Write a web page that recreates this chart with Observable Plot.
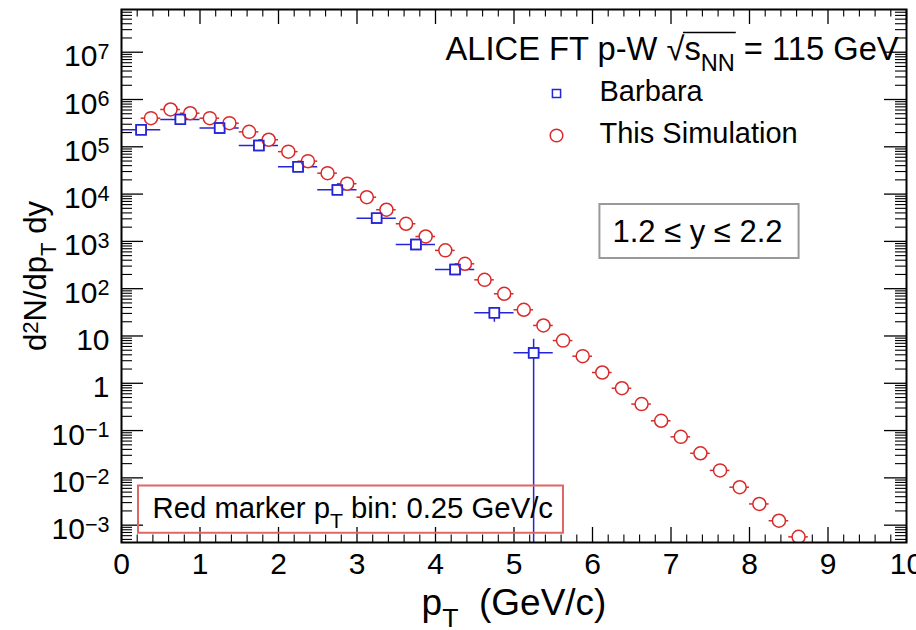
<!DOCTYPE html>
<html><head><meta charset="utf-8">
<script src="https://cdn.jsdelivr.net/npm/d3@7"></script>
<script src="https://cdn.jsdelivr.net/npm/@observablehq/plot@0.6"></script>
<style>
  body { margin: 0; background: #fff; }
  #chart { width: 916px; height: 630px; overflow: hidden; }
</style>
</head>
<body>
<div id="chart"></div>
<script>
// ---------------- data ----------------
const barbaraPt        = [0.25, 0.75, 1.25, 1.75, 2.25, 2.75, 3.25, 3.75, 4.25, 4.75, 5.25];
const barbaraPtHalfBin = [0.25, 0.25, 0.25, 0.25, 0.25, 0.25, 0.25, 0.25, 0.25, 0.25, 0.25];
const barbaraYield     = [2.3e5, 3.8e5, 2.5e5, 1.07e5, 3.8e4, 1.23e4, 3.1e3, 860, 255, 31, 4.4];
const barbaraYieldLow  = [2.2e5, 3.65e5, 2.4e5, 1.03e5, 3.65e4, 1.18e4, 2.95e3, 800, 225, 19.5, 1e-6];
const barbaraYieldHigh = [2.4e5, 3.95e5, 2.6e5, 1.11e5, 3.95e4, 1.28e4, 3.25e3, 920, 285, 40, 8.5];

const simPt = [0.375, 0.625, 0.875, 1.125, 1.375, 1.625, 1.875, 2.125, 2.375, 2.625, 2.875,
               3.125, 3.375, 3.625, 3.875, 4.125, 4.375, 4.625, 4.875, 5.125, 5.375, 5.625,
               5.875, 6.125, 6.375, 6.625, 6.875, 7.125, 7.375, 7.625, 7.875, 8.125, 8.375, 8.625];
const simPtHalfBin = simPt.map(() => 0.125);
const simYield = [4.03e5, 6.15e5, 5.13e5, 4.03e5, 3.16e5, 2.07e5, 1.41e5, 7.9e4, 4.97e4, 2.77e4, 1.66e4,
                  8.6e3, 4.68e3, 2.36e3, 1.27e3, 646, 336, 154, 78, 35.8, 16.7, 8.0,
                  3.74, 1.69, 0.787, 0.363, 0.161, 0.0736, 0.0331, 0.0144, 0.00635, 0.00281, 0.00124, 0.000566];

const xTickValues = [0, 1, 2, 3, 4, 5, 6, 7, 8, 9, 10];
const xTickLabels = ["0", "1", "2", "3", "4", "5", "6", "7", "8", "9", "10"];
const yTickValues = [1e-3, 1e-2, 1e-1, 1, 10, 1e2, 1e3, 1e4, 1e5, 1e6, 1e7];
const yTickLabels = ["10^{−3}", "10^{−2}", "10^{−1}", "1", "10", "10^{2}", "10^{3}", "10^{4}", "10^{5}", "10^{6}", "10^{7}"];

const xTitle = "p_{T}\u00a0 (GeV/c)";
const yTitle = "d^{2}N/dp_{T}\u00a0dy";
const headerText = "ALICE FT p-W √s_{NN} = 115 GeV";
const legendLabels = ["Barbara", "This Simulation"];
const rapidityText = "1.2 ≤ y ≤ 2.2";
const binText = "Red marker p_{T} bin: 0.25 GeV/c";

// ---------------- tables ----------------
const barbara = barbaraPt.map((x, i) => ({
  x, y: barbaraYield[i], xl: x - barbaraPtHalfBin[i], xh: x + barbaraPtHalfBin[i],
  yl: barbaraYieldLow[i], yh: barbaraYieldHigh[i]
}));
const sim = simPt.map((x, i) => ({ x, y: simYield[i], xl: x - simPtHalfBin[i], xh: x + simPtHalfBin[i] }));
const yTicks = yTickValues.map((v, i) => ({ v, label: yTickLabels[i] }));
const xTicks = xTickValues.map((v, i) => ({ v, label: xTickLabels[i] }));

const yMinor = [];
for (let n = -4; n <= 7; n++) for (let k = 2; k <= 9; k++) {
  const v = k * Math.pow(10, n);
  if (v > 4.3e-4 && v < 8e7) yMinor.push(v);
}
const xMinor = d3.range(0, 10.001, 0.2).filter(v => Math.abs(v - Math.round(v)) > 1e-6);

// ---------------- layout / style ----------------
const W = 916, H = 630, ML = 121, MR = 10, MT = 9, MB = 88;
const FW = W - ML - MR, FH = H - MT - MB;
const BLUE = "#2424d8", RED = "#d92a2a";
const yMajLen = 22, yMinLen = 11, xMajLen = 15, xMinLen = 7.5;

const chart = Plot.plot({
  width: W, height: H,
  marginLeft: ML, marginRight: MR, marginTop: MT, marginBottom: MB,
  style: { fontFamily: "'Liberation Sans', Arial, Helvetica, sans-serif", background: "white", color: "black", overflow: "hidden" },
  x: { domain: [0, 10], axis: null },
  y: { type: "log", domain: [4.3e-4, 8e7], axis: null },
  marks: [
    // ticks (inside the frame, mirrored)
    Plot.tickY(yTickValues, { y: d => d, insetRight: FW - yMajLen, stroke: "black", strokeWidth: 1.3 }),
    Plot.tickY(yTickValues, { y: d => d, insetLeft: FW - yMajLen, stroke: "black", strokeWidth: 1.3 }),
    Plot.tickY(yMinor, { y: d => d, insetRight: FW - yMinLen, stroke: "black", strokeWidth: 1.1 }),
    Plot.tickY(yMinor, { y: d => d, insetLeft: FW - yMinLen, stroke: "black", strokeWidth: 1.1 }),
    Plot.tickX(xTickValues, { x: d => d, insetTop: FH - xMajLen, stroke: "black", strokeWidth: 1.3 }),
    Plot.tickX(xTickValues, { x: d => d, insetBottom: FH - xMajLen, stroke: "black", strokeWidth: 1.3 }),
    Plot.tickX(xMinor, { x: d => d, insetTop: FH - xMinLen, stroke: "black", strokeWidth: 1.1 }),
    Plot.tickX(xMinor, { x: d => d, insetBottom: FH - xMinLen, stroke: "black", strokeWidth: 1.1 }),

    // error bars
    Plot.ruleY(barbara, { y: "y", x1: "xl", x2: "xh", stroke: BLUE, strokeWidth: 1.5, clip: true }),
    Plot.ruleX(barbara, { x: "x", y1: "yl", y2: "yh", stroke: BLUE, strokeWidth: 1.5, clip: true }),
    Plot.ruleY(sim, { y: "y", x1: "xl", x2: "xh", stroke: RED, strokeWidth: 1.5, clip: true }),

    // markers
    Plot.dot(barbara, { x: "x", y: "y", symbol: "square", r: 5.6, fill: "white", stroke: BLUE, strokeWidth: 1.5 }),
    Plot.dot(sim, { x: "x", y: "y", r: 6.5, fill: "white", stroke: RED, strokeWidth: 1.5, clip: true }),
    Plot.dot(barbara, { x: "x", y: "y", symbol: "square", r: 5.6, fill: "none", stroke: BLUE, strokeWidth: 1.5 }),

    Plot.frame({ stroke: "black", strokeWidth: 2 }),

    // tick labels
    Plot.text(yTicks, { y: "v", text: "label", frameAnchor: "left", textAnchor: "end", lineAnchor: "bottom", dx: -12, dy: 14, fontSize: 30 }),
    Plot.text(xTicks, { x: "v", text: "label", frameAnchor: "bottom", textAnchor: "middle", lineAnchor: "bottom", dy: 31, fontSize: 30 }),

    // axis titles
    Plot.text([xTitle], { text: d => d, frameAnchor: "bottom", textAnchor: "middle", lineAnchor: "bottom", dy: 72, fontSize: 37 }),
    Plot.text([yTitle], { text: d => d, frameAnchor: "left", textAnchor: "middle", lineAnchor: "bottom", rotate: -90, dx: -76, fontSize: 31 }),

    // header + legend
    Plot.text([headerText], { text: d => d, frameAnchor: "top-left", textAnchor: "start", lineAnchor: "bottom", dx: 324, dy: 50, fontSize: 32.7 }),
    Plot.dot([legendLabels[0]], { frameAnchor: "top-left", dx: 435, dy: 84, symbol: "square", r: 4.6, fill: "none", stroke: BLUE, strokeWidth: 1.5 }),
    Plot.dot([legendLabels[1]], { frameAnchor: "top-left", dx: 435, dy: 126, r: 6.3, fill: "none", stroke: RED, strokeWidth: 1.5 }),
    Plot.text([legendLabels[0]], { text: d => d, frameAnchor: "top-left", textAnchor: "start", lineAnchor: "bottom", dx: 478, dy: 91, fontSize: 29 }),
    Plot.text([legendLabels[1]], { text: d => d, frameAnchor: "top-left", textAnchor: "start", lineAnchor: "bottom", dx: 478, dy: 133, fontSize: 29 }),

    // annotation boxes (text; box drawn from text bbox below)
    Plot.text([rapidityText], { text: d => d, frameAnchor: "top-left", textAnchor: "middle", lineAnchor: "bottom", dx: 576, dy: 232, fontSize: 31 }),
    Plot.text([binText], { text: d => d, frameAnchor: "top-left", textAnchor: "start", lineAnchor: "bottom", dx: 31, dy: 508, fontSize: 29.3 })
  ]
});

document.getElementById("chart").appendChild(chart);

// ---------------- rich text (sub/superscripts, sqrt bar) and boxes ----------------
const NS = "http://www.w3.org/2000/svg";
function richify(t) {
  const s = t.textContent;
  if (!/[\^_]\{/.test(s)) return;
  const fs = parseFloat(getComputedStyle(t).fontSize);
  t.textContent = "";
  let shift = 0;
  const add = (str, kind) => {
    if (!str) return;
    const sp = document.createElementNS(NS, "tspan");
    let target = 0;
    if (kind === "^") { target = -0.25 * fs; sp.setAttribute("font-size", 0.72 * fs); }
    if (kind === "_") { target = 0.35 * fs; sp.setAttribute("font-size", 0.72 * fs); }
    const dy = target - shift;
    if (dy) sp.setAttribute("dy", dy);
    shift = target;
    sp.textContent = str;
    t.appendChild(sp);
  };
  const re = /([\^_])\{([^}]*)\}/g;
  let last = 0, m;
  while ((m = re.exec(s))) {
    add(s.slice(last, m.index), "");
    add(m[2], m[1]);
    last = re.lastIndex;
  }
  add(s.slice(last), "");
}
function sqrtBar(t) {
  const plain = t.textContent;
  const i = plain.indexOf("√");
  if (i < 0) return;
  const fs = parseFloat(getComputedStyle(t).fontSize);
  const end = plain.indexOf(" ", i);
  const a = t.getExtentOfChar(i), b = t.getExtentOfChar(end - 1);
  const top = a.y + 0.09 * fs;
  const l = document.createElementNS(NS, "line");
  l.setAttribute("x1", a.x + a.width - 1.5);
  l.setAttribute("x2", b.x + b.width + 1);
  l.setAttribute("y1", top);
  l.setAttribute("y2", top);
  l.setAttribute("stroke", "black");
  l.setAttribute("stroke-width", 1.6);
  if (t.getAttribute("transform")) l.setAttribute("transform", t.getAttribute("transform"));
  t.parentNode.appendChild(l);
}
const boxes = {
  [rapidityText]: { stroke: "#999999", pad: [13, 16, 9.5, 9.5] },
  [binText]: { stroke: "#e06666", pad: [14.5, 10, 5, 1] }
};
chart.querySelectorAll("text").forEach(t => {
  const raw = t.textContent;
  richify(t);
  if (raw === headerText) sqrtBar(t);
  const b = boxes[raw];
  if (b) {
    const bb = t.getBBox();
    const r = document.createElementNS(NS, "rect");
    r.setAttribute("x", bb.x - b.pad[0]);
    r.setAttribute("y", bb.y - b.pad[2]);
    r.setAttribute("width", bb.width + b.pad[0] + b.pad[1]);
    r.setAttribute("height", bb.height + b.pad[2] + b.pad[3]);
    if (t.getAttribute("transform")) r.setAttribute("transform", t.getAttribute("transform"));
    r.setAttribute("fill", "none");
    r.setAttribute("stroke", b.stroke);
    r.setAttribute("stroke-width", 2);
    t.parentNode.insertBefore(r, t);
  }
});
</script>
</body></html>
